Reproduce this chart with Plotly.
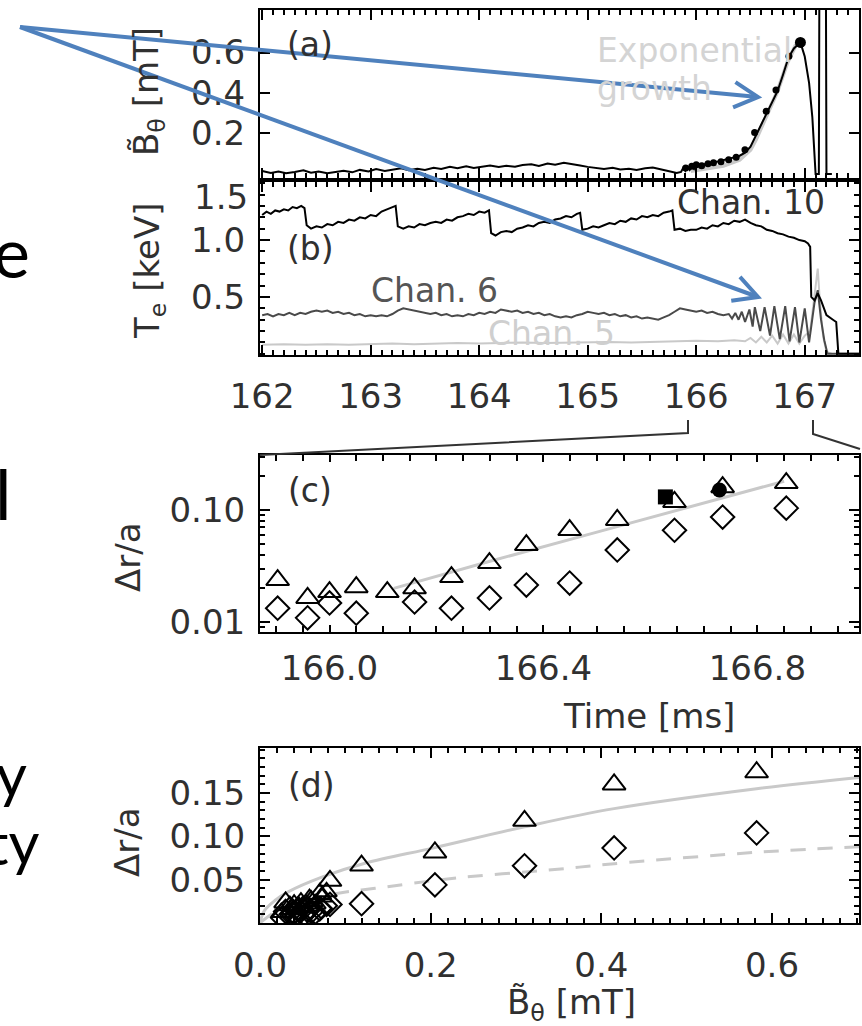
import math
import plotly.graph_objects as go

W, H = 862, 1026
def px(x): return x / W
def py(y): return 1 - y / H

# ---------------- data ----------------
# panel (a): B_theta signal [mT] vs time [ms]
a_sig_t = [162.00, 162.08, 162.15, 162.22, 162.30, 162.38, 162.45, 162.52, 162.60, 162.68,
           162.75, 162.83, 162.90, 162.98, 163.05, 163.13, 163.20, 163.28, 163.35, 163.43,
           163.50, 163.58, 163.65, 163.73, 163.80, 163.88, 163.95, 164.03, 164.10, 164.18,
           164.25, 164.33, 164.40, 164.48, 164.55, 164.63, 164.70, 164.78, 164.85, 164.93,
           165.00, 165.08, 165.15, 165.23, 165.30, 165.38, 165.45, 165.53, 165.60, 165.68,
           165.75, 165.82, 165.86, 165.88, 165.90, 165.92, 165.94, 165.96, 165.98, 166.00,
           166.03, 166.06, 166.10, 166.15, 166.20, 166.25, 166.30, 166.35, 166.40, 166.45,
           166.50, 166.55, 166.60, 166.65, 166.70, 166.75, 166.80, 166.85, 166.90, 166.96,
           167.00, 167.04, 167.07, 167.09, 167.10, 167.13, 167.135, 167.195, 167.20, 167.25]
a_sig_b = [0.015, 0.005, 0.012, 0.003, 0.010, 0.018, 0.006, 0.012, 0.004, 0.011,
           0.016, 0.008, 0.020, 0.012, 0.024, 0.015, 0.022, 0.028, 0.018, 0.026,
           0.020, 0.030, 0.025, 0.035, 0.028, 0.038, 0.030, 0.036, 0.042, 0.034,
           0.040, 0.036, 0.044, 0.048, 0.040, 0.052, 0.045, 0.055, 0.050, 0.042,
           0.035, 0.028, 0.025, 0.030, 0.022, 0.026, 0.020, 0.028, 0.032, 0.022,
           0.012, 0.005, 0.010, 0.030, 0.015, 0.035, 0.020, 0.038, 0.025, 0.045,
           0.035, 0.050, 0.045, 0.058, 0.062, 0.068, 0.074, 0.082, 0.090, 0.105,
           0.135, 0.190, 0.240, 0.300, 0.350, 0.410, 0.490, 0.575, 0.620, 0.650,
           0.580, 0.450, 0.280, 0.100, 0.000, 0.000, 0.950, 0.950, 0.000, 0.000]
a_fit_t = [165.95, 166.10, 166.25, 166.40, 166.50, 166.55, 166.64, 166.75, 166.84, 166.92]
a_fit_b = [0.015, 0.025, 0.040, 0.070, 0.120, 0.170, 0.280, 0.410, 0.550, 0.640]
a_peak_t = [166.96]
a_peak_b = [0.65]

# panel (b): T_e [keV]
ch10_t = [162.00, 162.04, 162.08, 162.12, 162.16, 162.20, 162.24, 162.28, 162.32, 162.36,
          162.39, 162.41, 162.45, 162.50, 162.55, 162.60, 162.65, 162.70, 162.75, 162.80,
          162.85, 162.90, 162.95, 163.00, 163.05, 163.10, 163.15, 163.20, 163.23, 163.25,
          163.30, 163.35, 163.40, 163.45, 163.50, 163.55, 163.60, 163.65, 163.70, 163.75,
          163.80, 163.85, 163.90, 163.95, 164.00, 164.05, 164.09, 164.11, 164.15, 164.20,
          164.25, 164.30, 164.35, 164.40, 164.45, 164.50, 164.55, 164.60, 164.65, 164.70,
          164.75, 164.80, 164.85, 164.90, 164.93, 164.95, 165.00, 165.05, 165.10, 165.15,
          165.20, 165.25, 165.30, 165.35, 165.40, 165.45, 165.50, 165.55, 165.60, 165.65,
          165.70, 165.75, 165.78, 165.80, 165.85, 165.90, 165.95, 166.00, 166.05, 166.10,
          166.15, 166.20, 166.25, 166.30, 166.35, 166.40, 166.45, 166.50, 166.55, 166.60,
          166.65, 166.70, 166.75, 166.80, 166.85, 166.90, 166.95, 167.00, 167.03, 167.05,
          167.06, 167.09, 167.12, 167.15, 167.20, 167.26, 167.29, 167.31, 167.50]
ch10_te = [1.22, 1.25, 1.23, 1.26, 1.25, 1.27, 1.26, 1.29, 1.28, 1.30,
           1.28, 1.13, 1.10, 1.12, 1.11, 1.14, 1.13, 1.16, 1.15, 1.18,
           1.17, 1.20, 1.19, 1.22, 1.21, 1.25, 1.27, 1.29, 1.30, 1.12,
           1.10, 1.12, 1.11, 1.14, 1.13, 1.15, 1.16, 1.15, 1.18, 1.17,
           1.20, 1.21, 1.23, 1.22, 1.25, 1.24, 1.26, 1.06, 1.04, 1.07,
           1.08, 1.07, 1.10, 1.11, 1.13, 1.12, 1.15, 1.16, 1.15, 1.18,
           1.19, 1.21, 1.20, 1.23, 1.24, 1.09, 1.10, 1.12, 1.11, 1.13,
           1.15, 1.14, 1.17, 1.16, 1.19, 1.18, 1.21, 1.20, 1.22, 1.21,
           1.24, 1.25, 1.26, 1.09, 1.10, 1.08, 1.09, 1.09, 1.11, 1.10,
           1.13, 1.12, 1.15, 1.14, 1.17, 1.16, 1.18, 1.15, 1.13, 1.12,
           1.09, 1.08, 1.06, 1.05, 1.03, 1.02, 1.00, 0.99, 0.97, 0.94,
           0.50, 0.47, 0.53, 0.47, 0.34, 0.30, 0.28, 0.00, 0.00]
ch6_t = [162.00, 162.05, 162.10, 162.15, 162.20, 162.25, 162.30, 162.35, 162.40, 162.45,
         162.50, 162.55, 162.60, 162.65, 162.70, 162.75, 162.80, 162.85, 162.90, 162.95,
         163.00, 163.05, 163.10, 163.15, 163.20, 163.25, 163.30, 163.35, 163.40, 163.45,
         163.50, 163.55, 163.60, 163.65, 163.70, 163.75, 163.80, 163.85, 163.90, 163.95,
         164.00, 164.05, 164.10, 164.15, 164.20, 164.25, 164.30, 164.35, 164.40, 164.45,
         164.50, 164.55, 164.60, 164.65, 164.70, 164.75, 164.80, 164.85, 164.90, 164.95,
         165.00, 165.05, 165.10, 165.15, 165.20, 165.25, 165.30, 165.35, 165.40, 165.45,
         165.50, 165.55, 165.60, 165.65, 165.70, 165.75, 165.80, 165.85, 165.90, 165.95,
         166.00, 166.05, 166.10, 166.15, 166.20, 166.25, 166.30, 166.33, 166.36, 166.39,
         166.42, 166.45, 166.49, 166.52, 166.54, 166.59, 166.63, 166.68, 166.72, 166.77,
         166.82, 166.86, 166.91, 166.95, 167.00, 167.04, 167.09, 167.12, 167.15, 167.18,
         167.21, 167.50]
ch6_te = [0.34, 0.35, 0.33, 0.35, 0.34, 0.36, 0.34, 0.36, 0.35, 0.37,
          0.38, 0.37, 0.38, 0.36, 0.37, 0.35, 0.36, 0.34, 0.35, 0.33,
          0.34, 0.33, 0.34, 0.33, 0.35, 0.38, 0.40, 0.39, 0.38, 0.37,
          0.36, 0.35, 0.36, 0.34, 0.35, 0.33, 0.34, 0.33, 0.35, 0.34,
          0.36, 0.35, 0.37, 0.36, 0.39, 0.38, 0.37, 0.38, 0.36, 0.37,
          0.35, 0.36, 0.34, 0.35, 0.33, 0.32, 0.33, 0.32, 0.34, 0.35,
          0.37, 0.36, 0.35, 0.36, 0.34, 0.35, 0.33, 0.34, 0.32, 0.33,
          0.31, 0.32, 0.31, 0.30, 0.32, 0.34, 0.37, 0.40, 0.39, 0.38,
          0.37, 0.38, 0.36, 0.37, 0.35, 0.34, 0.35, 0.31, 0.36, 0.30,
          0.37, 0.28, 0.39, 0.24, 0.41, 0.20, 0.41, 0.16, 0.42, 0.13,
          0.42, 0.11, 0.41, 0.10, 0.40, 0.10, 0.45, 0.56, 0.30, 0.12,
          0.00, 0.00]
ch5_t = [162.0, 162.2, 162.4, 162.6, 162.8, 163.0, 163.2, 163.4, 163.6, 163.8,
         164.0, 164.2, 164.4, 164.6, 164.8, 165.0, 165.2, 165.4, 165.6, 165.8,
         166.0, 166.2, 166.35, 166.45, 166.5, 166.55, 166.6, 166.65, 166.7, 166.75,
         166.8, 166.85, 166.9, 166.95, 167.0, 167.05, 167.1, 167.12, 167.14, 167.17,
         167.2, 167.25]
ch5_te = [0.080, 0.085, 0.080, 0.085, 0.080, 0.085, 0.090, 0.085, 0.090, 0.095,
          0.090, 0.095, 0.100, 0.095, 0.100, 0.100, 0.105, 0.100, 0.105, 0.110,
          0.115, 0.110, 0.120, 0.110, 0.140, 0.100, 0.150, 0.100, 0.160, 0.090,
          0.170, 0.090, 0.170, 0.090, 0.160, 0.200, 0.600, 0.750, 0.450, 0.150,
          0.020, 0.000]

# panels (c)/(d): island width vs time and vs B_theta
meas_t = [165.903, 165.959, 166.000, 166.050, 166.108, 166.159, 166.228, 166.299, 166.368,
          166.449, 166.538, 166.645, 166.735, 166.854]
meas_b = [0.030, 0.038, 0.045, 0.040, 0.050, 0.055, 0.060, 0.070, 0.082,
          0.119, 0.205, 0.310, 0.415, 0.582]
dr_tri = [0.0237, 0.0164, 0.0185, 0.0205, 0.0185, 0.0200, 0.0252, 0.0336, 0.0487,
          0.0663, 0.0815, 0.1180, 0.1600, 0.1740]
dr_dia = [0.0133, 0.0109, 0.0148, 0.0120, None, 0.0151, 0.0133, 0.0164, 0.0214,
          0.0223, 0.0440, 0.0660, 0.0866, 0.1040]
sq_t, sq_dr = [166.628], [0.131]
circ_t, circ_dr = [166.729], [0.151]
c_fit_t = [166.12, 166.30, 166.50, 166.70, 166.85]
c_fit_dr = [0.0200, 0.0349, 0.0635, 0.1156, 0.1810]

extra_b = [0.025, 0.035, 0.042, 0.048, 0.052, 0.058, 0.065, 0.072, 0.078]
extra_tri = [0.012, 0.020, 0.015, 0.024, 0.018, 0.028, 0.022, 0.030, 0.036]
extra_dia = [0.006, 0.010, 0.008, 0.013, 0.009, 0.015, 0.011, 0.017, 0.020]
d_fit_b = [0.0, 0.005, 0.0175, 0.033, 0.0725, 0.123, 0.205, 0.31, 0.415, 0.582, 0.702]
d_fit_dr = [0.0, 0.014, 0.026, 0.036, 0.053, 0.069, 0.087, 0.111, 0.132, 0.155, 0.168]
d_dash_b = [0.0, 0.03, 0.09, 0.135, 0.23, 0.337, 0.433, 0.588, 0.702]
d_dash_dr = [0.0, 0.020, 0.034, 0.040, 0.052, 0.061, 0.070, 0.082, 0.088]

ab_ticks = [162, 163, 164, 165, 166, 167]
c_ticks = [166.0, 166.4, 166.8]
d_xticks = [0.0, 0.2, 0.4, 0.6]
d_xtext = ["0.0", "0.2", "0.4", "0.6"]

# ---------------- figure ----------------
FONT = "DejaVu Sans"
TXT = "#303030"
LGREY = "#c9c9c9"
fig = go.Figure()

def sc(x, y, ax, **kw):
    fig.add_trace(go.Scatter(x=x, y=y, xaxis="x" + ax, yaxis="y" + ax, showlegend=False,
                             hoverinfo="skip", **kw))

# (a)
sc(a_fit_t, a_fit_b, "", mode="lines", line=dict(color=LGREY, width=4))
sc(a_sig_t, a_sig_b, "", mode="lines", line=dict(color="black", width=2))
sc(meas_t, meas_b, "", mode="markers", marker=dict(color="black", size=7))
sc(a_peak_t, a_peak_b, "", mode="markers", marker=dict(color="black", size=11))
# (b)
sc(ch5_t, ch5_te, "2", mode="lines", line=dict(color=LGREY, width=2))
sc(ch6_t, ch6_te, "2", mode="lines", line=dict(color="#4a4a4a", width=2))
sc(ch10_t, ch10_te, "2", mode="lines", line=dict(color="black", width=2))
# (c)
sc(c_fit_t, c_fit_dr, "3", mode="lines", line=dict(color=LGREY, width=3))
sc(meas_t, dr_tri, "3", mode="markers",
   marker=dict(symbol="triangle-up-open", size=20, color="black", line=dict(width=2)))
sc(meas_t, dr_dia, "3", mode="markers",
   marker=dict(symbol="diamond-open", size=18, color="black", line=dict(width=2)))
sc(sq_t, sq_dr, "3", mode="markers", marker=dict(symbol="square", size=15, color="black"))
sc(circ_t, circ_dr, "3", mode="markers", marker=dict(symbol="circle", size=15, color="black"))
# (d)
sc(d_fit_b, d_fit_dr, "4", mode="lines", line=dict(color=LGREY, width=3, shape="spline"))
sc(d_dash_b, d_dash_dr, "4", mode="lines",
   line=dict(color=LGREY, width=3, shape="spline", dash="15px,12px"))
sc(extra_b, extra_tri, "4", mode="markers",
   marker=dict(symbol="triangle-up-open", size=18, color="black", line=dict(width=2)))
sc(extra_b, extra_dia, "4", mode="markers",
   marker=dict(symbol="diamond-open", size=16, color="black", line=dict(width=2)))
sc(meas_b, dr_tri, "4", mode="markers",
   marker=dict(symbol="triangle-up-open", size=20, color="black", line=dict(width=2)))
sc(meas_b, dr_dia, "4", mode="markers",
   marker=dict(symbol="diamond-open", size=18, color="black", line=dict(width=2)))

tickfont = dict(family=FONT, size=34, color=TXT)
def axis(**kw):
    base = dict(showline=True, linecolor="black", linewidth=2, mirror="ticks",
                ticks="inside", ticklen=10, tickwidth=2, tickcolor="black",
                showgrid=False, zeroline=False, tickfont=tickfont, fixedrange=True,
                automargin=False)
    base.update(kw)
    return base

xdom = [px(260), px(859)]
fig.update_layout(
    width=W, height=H, margin=dict(l=0, r=0, t=0, b=0, pad=0), autosize=False,
    paper_bgcolor="white", plot_bgcolor="white", showlegend=False,
    xaxis=axis(domain=xdom, anchor="y", range=[161.98, 167.5], tickvals=ab_ticks,
               showticklabels=False,
               minor=dict(ticks="inside", dtick=0.1, tick0=162, ticklen=5, tickcolor="black")),
    yaxis=axis(domain=[py(178), py(10)], anchor="x", range=[-0.02, 0.81],
               tickvals=[0.2, 0.4, 0.6], ticktext=["0.2", "0.4", "0.6"], ticklabelstandoff=6),
    xaxis2=axis(domain=xdom, anchor="y2", range=[161.98, 167.5], tickvals=ab_ticks,
                ticktext=[str(v) for v in ab_ticks], ticklabelstandoff=10,
                minor=dict(ticks="inside", dtick=0.1, tick0=162, ticklen=5, tickcolor="black")),
    yaxis2=axis(domain=[py(355), py(182)], anchor="x2", range=[-0.01, 1.51],
                tickvals=[0.5, 1.0], ticktext=["0.5", "1.0"], ticklabelstandoff=6,
                minor=dict(ticks="inside", dtick=0.1, tick0=0, ticklen=5, tickcolor="black")),
    xaxis3=axis(domain=xdom, anchor="y3", range=[165.87, 166.99], tickvals=c_ticks,
                ticktext=["166.0", "166.4", "166.8"], ticklen=7, ticklabelstandoff=5,
                minor=dict(ticks="inside", dtick=0.05, tick0=166.0, ticklen=6, tickcolor="black")),
    yaxis3=axis(domain=[py(632), py(455)], anchor="x3", type="log",
                range=[math.log10(0.00815), math.log10(0.31)],
                tickvals=[0.01, 0.1], ticktext=["0.01", "0.10"], ticklabelstandoff=6,
                minor=dict(ticks="inside", dtick="D1", ticklen=5, tickcolor="black")),
    xaxis4=axis(domain=xdom, anchor="y4", range=[0, 0.702], tickvals=d_xticks,
                ticktext=d_xtext, ticklabelstandoff=11,
                minor=dict(ticks="inside", dtick=0.02, tick0=0, ticklen=5, tickcolor="black")),
    yaxis4=axis(domain=[py(923), py(748)], anchor="x4", range=[0, 0.202],
                tickvals=[0.05, 0.10, 0.15], ticktext=["0.05", "0.10", "0.15"],
                ticklabelstandoff=6,
                minor=dict(ticks="inside", dtick=0.01, tick0=0, ticklen=5, tickcolor="black")),
)

ann = []
def text(s, x, y, size=33, color=TXT, family=FONT, xanchor="center", angle=0):
    ann.append(dict(text=s, x=px(x), y=py(y), xref="paper", yref="paper", showarrow=False,
                    xanchor=xanchor, yanchor="middle", textangle=angle,
                    font=dict(family=family, size=size, color=color)))

text("(a)", 310, 44)
text("Exponential", 595, 51, color="#d4d4d4", xanchor="left")
text("growth", 595, 88, color="#d4d4d4", xanchor="left")
text("Chan. 10", 751, 203)
text("(b)", 310, 248)
text("Chan. 6", 434, 290, color="#555555")
text("Chan. 5", 551, 333, color="#cfcfcf")
text("(c)", 310, 490)
text("(d)", 311, 785)
text("1.5", 250, 197, size=34, xanchor="right")
# axis titles
text("B̃<sub>θ</sub> [mT]", 148, 92, size=34, angle=-90)
text("T<sub>e</sub> [keV]", 150, 271, size=34, angle=-90)
text("Δr/a", 128, 557, size=34, angle=-90)
text("Δr/a", 127, 842, size=34, angle=-90)
text("Time [ms]", 649, 716, size=34)
text("B̃<sub>θ</sub> [mT]", 571, 1004, size=34)
# slide text fragments
text("e", 32, 251, size=70, color="black", family="Lato", xanchor="right")
text("l", -7, 493, size=70, color="black", family="Lato", xanchor="left")
text("y", 29, 774, size=60, color="black", family="Lato", xanchor="right")
text("ty", 42, 842, size=60, color="black", family="Lato", xanchor="right")
fig.update_layout(annotations=ann)

shapes = []
BLUE = "#4F81BD"
def arrow(x0, y0, x1, y1, L=27, ang=math.radians(28)):
    dx, dy = x1 - x0, y1 - y0
    n = math.hypot(dx, dy)
    ux, uy = -dx / n, -dy / n
    pts = []
    for s in (1, -1):
        c, si = math.cos(s * ang), math.sin(s * ang)
        pts.append((x1 + L * (ux * c - uy * si), y1 + L * (ux * si + uy * c)))
    shapes.append(dict(type="line", xref="paper", yref="paper", x0=px(x0), y0=py(y0),
                       x1=px(x1), y1=py(y1), line=dict(color=BLUE, width=4)))
    path = "M {} {} L {} {} L {} {}".format(px(pts[0][0]), py(pts[0][1]), px(x1), py(y1),
                                           px(pts[1][0]), py(pts[1][1]))
    shapes.append(dict(type="path", xref="paper", yref="paper", path=path,
                       line=dict(color=BLUE, width=4)))

def poly(points, color="#333333", width=2):
    path = "M " + " L ".join("{} {}".format(px(a), py(b)) for a, b in points)
    shapes.append(dict(type="path", xref="paper", yref="paper", path=path,
                       line=dict(color=color, width=width)))

poly([(260, 455), (688, 433), (688, 420)])
poly([(813, 420), (813, 434), (860, 449)])
arrow(20, 27, 758, 97)
arrow(20, 27, 758, 297)
fig.update_layout(shapes=shapes)

fig.write_html("out.html", config={"displayModeBar": False})
